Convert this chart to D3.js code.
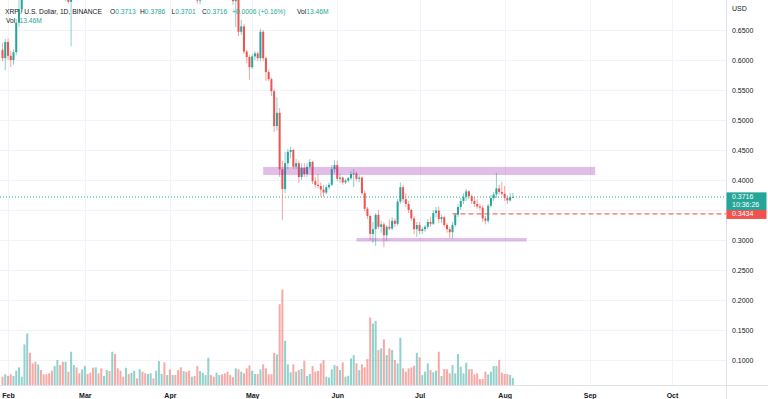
<!DOCTYPE html>
<html>
<head>
<meta charset="utf-8">
<script src="https://cdn.jsdelivr.net/npm/d3@7"></script>
<style>
  body { margin: 0; background: #fff; }
  svg { display: block; font-family: "Liberation Sans", Arial, sans-serif; }
</style>
</head>
<body>
<svg id="chart" width="768" height="399"></svg>
<script>
// XRP / USD daily candles, Jan 30 2022 -> Aug 4 2022
var firstDay = "2022-01-30";

var open = [.617,.603,.630,.607,.600,.613,.662,.685,.745,.815,
  .855,.830,.800,.770,.810,.790,.780,.775,.760,.745,
  .760,.770,.730,.712,.730,.697,.735,.765,.750,.740,
  .790,.810,.790,.770,.750,.765,.755,.730,.765,.800,
  .785,.820,.790,.780,.770,.765,.790,.785,.800,.820,
  .810,.835,.825,.815,.830,.840,.830,.845,.860,.865,
  .830,.835,.820,.835,.825,.810,.780,.785,.765,.750,
  .760,.730,.699,.720,.735,.745,.775,.760,.745,.765,
  .775,.750,.730,.715,.705,.698,.705,.647,.656,.614,
  .605,.588,.606,.611,.603,.647,.603,.580,.568,.548,
  .490,.512,.418,.385,.428,.447,.450,.422,.428,.405,
  .420,.410,.422,.430,.398,.392,.390,.384,.379,.388,
  .392,.418,.425,.402,.404,.396,.399,.403,.410,.411,
  .402,.404,.378,.352,.340,.310,.318,.342,.322,.326,
  .308,.322,.319,.332,.327,.364,.388,.368,.360,.350,
  .336,.318,.325,.315,.318,.322,.330,.327,.345,.349,
  .335,.338,.325,.318,.313,.325,.342,.355,.365,.372,
  .381,.373,.365,.360,.356,.354,.336,.332,.357,.370,
  .376,.386,.380,.377,.370,.366,.3713];

var high = [.628,.635,.636,.615,.618,.668,.705,.760,.830,.880,
  .870,.910,.820,.820,.820,.800,.810,.790,.770,.770,
  .780,.775,.740,.740,.735,.745,.775,.770,.760,.800,
  .830,.820,.800,.775,.770,.770,.760,.770,.810,.805,
  .830,.825,.800,.790,.780,.800,.800,.810,.830,.825,
  .840,.840,.830,.835,.850,.845,.850,.880,.870,.870,
  .840,.840,.840,.840,.830,.820,.790,.790,.770,.765,
  .765,.735,.730,.740,.750,.790,.780,.765,.770,.780,
  .780,.760,.735,.720,.710,.712,.708,.667,.660,.617,
  .608,.610,.615,.614,.652,.650,.606,.584,.571,.552,
  .538,.520,.432,.447,.452,.455,.452,.435,.432,.428,
  .428,.428,.435,.432,.405,.410,.396,.392,.392,.396,
  .425,.433,.432,.410,.406,.402,.405,.415,.418,.414,
  .408,.406,.382,.355,.342,.330,.345,.350,.332,.330,
  .325,.334,.338,.336,.368,.396,.392,.378,.365,.352,
  .340,.330,.330,.322,.325,.335,.338,.350,.355,.356,
  .342,.340,.328,.322,.330,.345,.360,.370,.378,.385,
  .383,.376,.372,.368,.360,.358,.340,.360,.375,.380,
  .412,.392,.397,.390,.374,.378,.3786];

var low = [.598,.583,.600,.588,.592,.608,.655,.680,.740,.800,
  .820,.790,.750,.760,.780,.760,.770,.755,.735,.740,
  .755,.720,.705,.698,.694,.623,.725,.740,.730,.730,
  .780,.780,.760,.740,.745,.745,.720,.725,.760,.775,
  .770,.780,.770,.760,.755,.760,.780,.780,.795,.800,
  .800,.815,.810,.810,.825,.820,.825,.840,.850,.820,
  .810,.800,.810,.820,.800,.770,.760,.760,.740,.745,
  .720,.694,.693,.715,.725,.740,.755,.740,.735,.755,
  .745,.720,.710,.700,.692,.655,.640,.642,.610,.595,
  .567,.585,.600,.598,.598,.598,.565,.565,.540,.480,
  .482,.405,.333,.378,.418,.436,.418,.418,.395,.400,
  .405,.405,.418,.393,.388,.386,.372,.372,.376,.384,
  .390,.412,.398,.395,.392,.393,.396,.400,.388,.398,
  .396,.375,.348,.335,.300,.295,.290,.318,.312,.288,
  .298,.316,.316,.322,.324,.360,.362,.355,.345,.332,
  .310,.305,.310,.310,.313,.318,.322,.325,.338,.328,
  .328,.322,.312,.303,.302,.322,.338,.350,.360,.365,
  .368,.360,.355,.352,.350,.330,.326,.328,.354,.365,
  .370,.376,.374,.365,.360,.364,.3701];

var close = [.603,.630,.607,.600,.613,.662,.685,.745,.815,.855,
  .830,.800,.770,.810,.790,.780,.775,.760,.745,.760,
  .770,.730,.712,.730,.697,.735,.765,.750,.740,.790,
  .810,.790,.770,.750,.765,.755,.730,.765,.800,.785,
  .820,.790,.780,.770,.765,.790,.785,.800,.820,.810,
  .835,.825,.815,.830,.840,.830,.845,.860,.865,.830,
  .835,.820,.835,.825,.810,.780,.785,.765,.750,.760,
  .730,.699,.720,.735,.745,.775,.760,.745,.765,.775,
  .750,.730,.715,.705,.698,.705,.647,.656,.614,.605,
  .588,.606,.611,.603,.647,.603,.580,.568,.548,.490,
  .512,.418,.385,.428,.447,.450,.422,.428,.405,.420,
  .410,.422,.430,.398,.392,.390,.384,.379,.388,.392,
  .418,.425,.402,.404,.396,.399,.403,.410,.411,.402,
  .404,.378,.352,.340,.310,.318,.342,.322,.326,.308,
  .322,.319,.332,.327,.364,.388,.368,.360,.350,.336,
  .318,.325,.315,.318,.322,.330,.327,.345,.349,.335,
  .338,.325,.318,.313,.325,.342,.355,.365,.372,.381,
  .373,.365,.360,.356,.354,.336,.332,.357,.370,.376,
  .386,.380,.377,.370,.366,.3713,.3716];

// volume, millions
var volume = [15.8,20.3,17.1,20.3,17.1,27.2,33.6,15.8,77.3,98.2,
  61.4,41.2,44.3,39.3,28.5,20.3,20.3,22.2,27.2,36.1,
  47.5,38,44.3,44.3,25.3,63.3,38,33.6,22.2,29.8,
  36.1,20.9,23.4,32.9,33.6,22.2,31.7,17.1,28.5,26.6,
  63.3,58.9,31.7,27.2,15.8,32.9,20.9,23.4,27.2,12.7,
  30.4,25.3,22.2,20.9,22.2,12.7,27.2,45.6,20.9,43.1,
  19,29.8,19,19,28.5,33.6,26.6,25.3,27.2,15.8,
  17.1,36.1,26.6,23.4,19,51.9,19,15.8,23.4,19,
  20.3,22.2,25.3,19,14.6,31.7,29.8,25.3,22.2,31.7,
  37.4,27.2,20.9,20.9,29.8,39.3,31.7,20.3,20.3,61.4,
  58.3,153.9,181.8,84.2,39.3,24.1,39.3,25.3,28.5,30.4,
  46.2,17.1,20.9,36.1,25.3,26.6,41.2,47.5,15.8,13.9,
  29.8,38,36.1,28.5,43.1,15.8,17.7,50.7,57,41.2,
  28.5,39.3,33.6,49.4,128.6,117.2,122.2,66.5,69.7,86.8,
  57,69.7,66.5,47.5,41.2,89.9,31.7,25.3,31.7,33.6,
  36.7,61.4,52.6,19,25.3,41.2,28.5,24.1,27.2,63.3,
  17.1,30.4,29.8,22.2,38,22.2,58.9,34.8,22.2,42.4,
  29.8,30.4,20.3,22.2,11.4,11.4,25.3,20.3,25.3,36.1,
  36.1,47.5,23.4,20.9,20.9,19,13.46];

var monthDates = ["2022-02-01","2022-03-01","2022-04-01","2022-05-01","2022-06-01",
  "2022-07-01","2022-08-01","2022-09-01","2022-10-01"];
var monthLabels = ["Feb","Mar","Apr","May","Jun","Jul","Aug","Sep","Oct"];
var priceTicks = [0.10,0.15,0.20,0.25,0.30,0.35,0.40,0.45,0.50,0.55,0.60,0.65];

// drawn rectangles (support / resistance zones)
var zoneFrom = ["2022-05-05","2022-06-08"];
var zoneTo = ["2022-09-03","2022-08-09"];
var zoneHigh = [0.4217,0.3033];
var zoneLow = [0.4083,0.2975];

var lastPrice = 0.3716;
var countdown = "10:36:26";
var levelPrice = 0.3434;
var levelFrom = "2022-07-13";

var upColor = "#26a69a", downColor = "#ef5350";
var upVol = "rgba(38,166,154,0.5)", downVol = "rgba(239,83,80,0.5)";
var gridColor = "#f0f3fa", textColor = "#131722";

var plotRight = 726, plotBottom = 385;

var parse = d3.utcParse("%Y-%m-%d");
var dayOne = parse(firstDay);

var data = close.map(function (c, i) {
  return {date: d3.utcDay.offset(dayOne, i), o: open[i], h: high[i], l: low[i], c: c, v: volume[i]};
});

var x = d3.scaleUtc()
  .domain([parse("2022-02-01"), parse("2022-10-01")])
  .range([8, 672]);
var y = d3.scaleLinear().domain([0.10, 0.65]).range([360, 30]);
var yVol = d3.scaleLinear().domain([0, 200]).range([plotBottom, 280]);

var svg = d3.select("#chart");

svg.append("defs").append("clipPath").attr("id", "plotClip")
  .append("rect").attr("x", 0).attr("y", 0).attr("width", plotRight).attr("height", plotBottom);

// grid
var grid = svg.append("g");
grid.selectAll(".hg").data(priceTicks).enter().append("line")
  .attr("x1", 0).attr("x2", plotRight)
  .attr("y1", d => Math.round(y(d)) + 0.5).attr("y2", d => Math.round(y(d)) + 0.5)
  .attr("stroke", gridColor);
grid.selectAll(".vg").data(monthDates).enter().append("line")
  .attr("x1", d => Math.round(x(parse(d))) + 0.5).attr("x2", d => Math.round(x(parse(d))) + 0.5)
  .attr("y1", 0).attr("y2", plotBottom)
  .attr("stroke", gridColor);

var plot = svg.append("g").attr("clip-path", "url(#plotClip)");

// volume
plot.selectAll(".vol").data(data).enter().append("rect")
  .attr("x", d => x(d.date) - 1)
  .attr("width", 2)
  .attr("y", d => yVol(d.v))
  .attr("height", d => plotBottom - yVol(d.v))
  .attr("fill", d => d.c >= d.o ? upVol : downVol);

// candles
var candle = plot.selectAll(".candle").data(data).enter().append("g");
candle.append("line")
  .attr("x1", d => x(d.date)).attr("x2", d => x(d.date))
  .attr("y1", d => y(d.h)).attr("y2", d => y(d.l))
  .attr("stroke", d => d.c >= d.o ? upColor : downColor)
  .attr("stroke-opacity", 0.6)
  .attr("stroke-width", 0.9);
candle.append("rect")
  .attr("x", d => x(d.date) - 1)
  .attr("width", 2)
  .attr("y", d => y(Math.max(d.o, d.c)))
  .attr("height", d => Math.max(0.8, Math.abs(y(d.o) - y(d.c))))
  .attr("fill", d => d.c >= d.o ? upColor : downColor);

// zones
plot.selectAll(".zone").data(zoneFrom).enter().append("rect")
  .attr("x", (d, i) => x(parse(d)))
  .attr("width", (d, i) => x(parse(zoneTo[i])) - x(parse(d)))
  .attr("y", (d, i) => y(zoneHigh[i]))
  .attr("height", (d, i) => y(zoneLow[i]) - y(zoneHigh[i]))
  .attr("fill", "rgb(156,39,176)")
  .attr("fill-opacity", 0.3);

// current price line
plot.append("line")
  .attr("x1", 0).attr("x2", plotRight)
  .attr("y1", y(lastPrice)).attr("y2", y(lastPrice))
  .attr("stroke", upColor).attr("stroke-width", 1)
  .attr("stroke-dasharray", "1,2");

// horizontal level
plot.append("line")
  .attr("x1", x(parse(levelFrom))).attr("x2", plotRight)
  .attr("y1", y(levelPrice)).attr("y2", y(levelPrice))
  .attr("stroke", downColor).attr("stroke-opacity", 0.85).attr("stroke-width", 1.3)
  .attr("stroke-dasharray", "5,3");

// legend
var legend = svg.append("g").attr("font-size", 6.7).attr("fill", textColor);
legend.append("text").attr("x", 5).attr("y", 13.5).text("XRP / U.S. Dollar, 1D, BINANCE");
var ohlcLabels = ["O", "H", "L", "C"];
var ohlcValues = ["0.3713", "0.3786", "0.3701", "0.3716"];
var ohlcX = [110, 140, 171.5, 202];
ohlcLabels.forEach(function (lab, i) {
  var t = legend.append("text").attr("x", ohlcX[i]).attr("y", 13.5);
  t.append("tspan").text(lab);
  t.append("tspan").attr("fill", upColor).text(ohlcValues[i]);
});
legend.append("text").attr("x", 232).attr("y", 13.5).attr("fill", upColor).text("+0.0006 (+0.16%)");
var v1 = legend.append("text").attr("x", 297).attr("y", 13.5);
v1.append("tspan").text("Vol");
v1.append("tspan").attr("fill", upColor).text("13.46M");
var v2 = legend.append("text").attr("x", 6).attr("y", 23);
v2.append("tspan").text("Vol");
v2.append("tspan").attr("x", 19.5).attr("fill", upColor).text("13.46M");

// price axis (labels hidden where the price tags sit)
var lastY = y(lastPrice), levY = y(levelPrice);
var shownTicks = priceTicks.filter(p => y(p) < lastY - 10 || y(p) > levY + 10);
svg.append("line").attr("x1", plotRight + 0.5).attr("x2", plotRight + 0.5)
  .attr("y1", 0).attr("y2", 399).attr("stroke", "#e0e3eb");
var yAxis = svg.append("g").attr("transform", "translate(" + plotRight + ",0)")
  .call(d3.axisRight(y).tickValues(shownTicks).tickFormat(d3.format(".4f")).tickSize(0).tickPadding(6));
yAxis.select(".domain").remove();
yAxis.selectAll("text").attr("font-size", 7).attr("fill", textColor)
  .attr("font-family", "Liberation Sans, Arial, sans-serif");
svg.append("text").attr("x", 732).attr("y", 10.5).attr("font-size", 7).attr("fill", textColor).text("USD");

// time axis
svg.append("line").attr("x1", 0).attr("x2", 768)
  .attr("y1", plotBottom + 0.5).attr("y2", plotBottom + 0.5).attr("stroke", "#e0e3eb");
var xAxis = svg.append("g").attr("transform", "translate(0," + plotBottom + ")")
  .call(d3.axisBottom(x).tickValues(monthDates.map(parse))
    .tickFormat((d, i) => monthLabels[i]).tickSize(0).tickPadding(8));
xAxis.select(".domain").remove();
xAxis.selectAll("text").attr("font-size", 7).attr("font-weight", "bold").attr("fill", textColor)
  .attr("font-family", "Liberation Sans, Arial, sans-serif");

// price tags on the scale
svg.append("rect").attr("x", plotRight + 0.5).attr("y", lastY - 4.7)
  .attr("width", 40).attr("height", 17.7).attr("fill", upColor);
svg.append("text").attr("x", 732).attr("y", lastY + 1.5).attr("font-size", 7).attr("fill", "#fff").text(lastPrice.toFixed(4));
svg.append("text").attr("x", 732).attr("y", lastY + 10).attr("font-size", 7).attr("fill", "#fff").text(countdown);
svg.append("rect").attr("x", plotRight + 0.5).attr("y", levY - 4)
  .attr("width", 40).attr("height", 9).attr("fill", downColor);
svg.append("text").attr("x", 732).attr("y", levY + 2.5).attr("font-size", 7).attr("fill", "#fff").text(levelPrice.toFixed(4));
</script>
</body>
</html>
